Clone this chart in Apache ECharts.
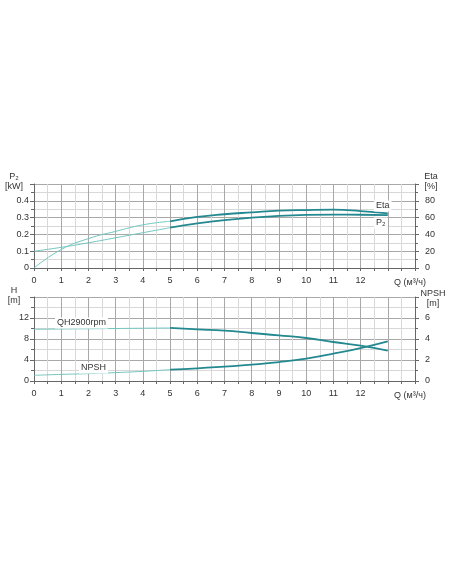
<!DOCTYPE html>
<html>
<head>
<meta charset="utf-8">
<script src="https://cdn.jsdelivr.net/npm/echarts@6/dist/echarts.min.js"></script>
<style>
  html, body { margin: 0; padding: 0; background: #fff; }
  #chart { width: 452px; height: 584px; }
</style>
</head>
<body>
<div id="chart"></div>
<script>
// Q (m3/h) points
const flow = [0, 1, 2, 3, 4, 5, 6, 7, 8, 9, 10, 11, 12, 13];
// P2 [kW]
const powerP2 = [0.100, 0.123, 0.150, 0.180, 0.210, 0.240, 0.265, 0.285, 0.300, 0.310, 0.316, 0.318, 0.317, 0.315];
// Eta [%]
const efficiency = [0, 22, 35, 43.6, 51.4, 55.6, 60.8, 64, 66.2, 68.2, 69, 69.4, 67.8, 65];
// H [m]
const headH = [9.84, 9.9, 9.95, 10.0, 10.05, 10.1, 9.84, 9.59, 9.14, 8.7, 8.19, 7.43, 6.73, 5.78];
// NPSH [m]
const npsh = [0.54, 0.63, 0.7, 0.8, 0.92, 1.08, 1.2, 1.37, 1.56, 1.8, 2.13, 2.6, 3.14, 3.78];
// x where the thin part turns into the working range
const splitQ = 5;

const textColor = '#333';
const majorGrid = '#a8a8a8';
const minorGrid = '#d8d8d8';
const lightLine = '#72c6c0';
const darkLine = '#23888f';
const fontFamily = '"Liberation Sans", Arial, sans-serif';

// build [x, y] pairs for one part of a curve
function part(ys, fromIdx, toIdx) {
  const out = [];
  for (let i = fromIdx; i <= toIdx; i++) out.push([flow[i], ys[i]]);
  return out;
}

function curve(ys, xIdx, yIdx) {
  const k = flow.indexOf(splitQ);
  return [
    {
      type: 'line', xAxisIndex: xIdx, yAxisIndex: yIdx,
      data: part(ys, 0, k), smooth: true, symbol: 'none',
      lineStyle: { color: lightLine, width: 1 }
    },
    {
      type: 'line', xAxisIndex: xIdx, yAxisIndex: yIdx,
      data: part(ys, k, flow.length - 1), smooth: true, symbol: 'none',
      lineStyle: { color: darkLine, width: 1.8 }
    }
  ];
}

function xAxisCfg(gridIndex) {
  return {
    type: 'value', gridIndex: gridIndex, min: 0, max: 14, interval: 1,
    axisLine: { show: true, lineStyle: { color: '#666', width: 1 } },
    axisTick: { show: true, length: 3, lineStyle: { color: '#666' } },
    minorTick: { show: true, splitNumber: 2, length: 3, lineStyle: { color: '#666' } },
    splitLine: { show: true, lineStyle: { color: majorGrid, width: 1 } },
    minorSplitLine: { show: true, lineStyle: { color: minorGrid, width: 1 } },
    axisLabel: {
      color: textColor, fontSize: 9, fontFamily: fontFamily, margin: 8,
      formatter: v => (v <= 12 ? String(v) : '')
    }
  };
}

function yAxisCfg(gridIndex, pos, max, interval, grid, fmt) {
  return {
    type: 'value', gridIndex: gridIndex, position: pos, min: 0, max: max, interval: interval,
    axisLine: { show: true, lineStyle: { color: '#666', width: 1 } },
    axisTick: { show: true, length: 4, lineStyle: { color: '#666' } },
    minorTick: { show: true, splitNumber: 2, length: 3, lineStyle: { color: '#666' } },
    splitLine: { show: grid, lineStyle: { color: majorGrid, width: 1 } },
    minorSplitLine: { show: grid, lineStyle: { color: minorGrid, width: 1 } },
    axisLabel: {
      color: textColor, fontSize: 9, fontFamily: fontFamily,
      margin: pos === 'left' ? 5 : 10,
      formatter: v => (v < max - 1e-9 ? fmt(v) : '')
    }
  };
}

function txt(x, y, s, align, size, boxed) {
  const style = {
    text: s, fill: textColor, fontSize: size || 9, fontFamily: fontFamily,
    align: align || 'left', verticalAlign: 'middle'
  };
  if (boxed) {
    style.backgroundColor = '#fff';
    style.padding = [1, 2];
  }
  return { type: 'text', x: x, y: y, z: 100, style: style };
}

const chart = echarts.init(document.getElementById('chart'), null, { renderer: 'canvas' });

const option = {
  backgroundColor: '#fff',
  animation: false,
  grid: [
    { left: 34, right: 37, top: 184, height: 84 },
    { left: 34, right: 37, top: 297, height: 84 }
  ],
  xAxis: [xAxisCfg(0), xAxisCfg(1)],
  yAxis: [
    yAxisCfg(0, 'left', 0.5, 0.1, true, v => (v === 0 ? '0' : v.toFixed(1))),
    yAxisCfg(0, 'right', 100, 20, false, v => String(v)),
    yAxisCfg(1, 'left', 16, 4, true, v => String(v)),
    yAxisCfg(1, 'right', 8, 2, false, v => String(v))
  ],
  series: [
    ...curve(powerP2, 0, 0),
    ...curve(efficiency, 0, 1),
    ...curve(headH, 1, 2),
    ...curve(npsh, 1, 3)
  ],
  graphic: [
    // axis titles
    txt(14, 177, 'P₂', 'center'),
    txt(14, 187, '[kW]', 'center'),
    txt(431, 177, 'Eta', 'center'),
    txt(431, 187, '[%]', 'center'),
    txt(410, 283, 'Q (м³/ч)', 'center'),
    txt(14, 291, 'H', 'center'),
    txt(14, 301, '[m]', 'center'),
    txt(433, 294, 'NPSH', 'center'),
    txt(433, 304, '[m]', 'center'),
    txt(410, 396, 'Q (м³/ч)', 'center'),
    // curve names
    txt(374, 206, 'Eta', 'left', 9, true),
    txt(374, 223, 'P₂', 'left', 9, true),
    txt(55, 323, 'QH2900rpm', 'left', 9, true),
    txt(79, 368, 'NPSH', 'left', 9, true)
  ]
};

chart.setOption(option);
</script>
</body>
</html>
